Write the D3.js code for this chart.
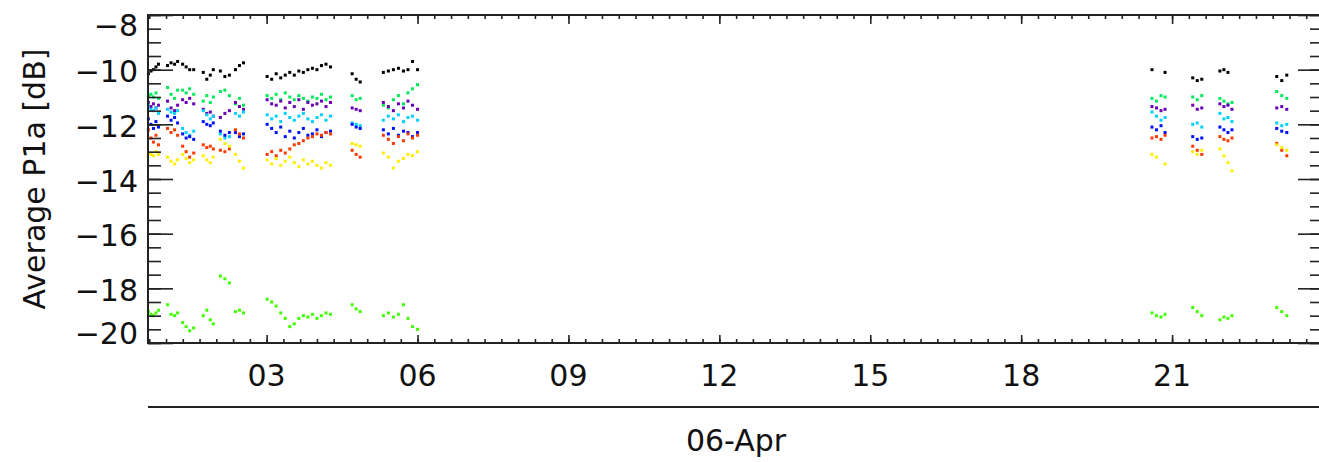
<!DOCTYPE html>
<html>
<head>
<meta charset="utf-8">
<script src="https://cdn.jsdelivr.net/npm/d3@7"></script>
<style>
  body { margin: 0; background: #fff; }
  text { font-family: "DejaVu Sans", sans-serif; fill: #111; }
</style>
</head>
<body>
<div id="chart"></div>
<script>
// sample times, day of April 2006 (fractional)
var times = [
  0.65, 0.70, 0.75, 0.80, 0.85,
  1.03, 1.10, 1.17, 1.23,
  1.33, 1.40, 1.47, 1.55,
  1.74, 1.81, 1.88, 1.94,
  2.08, 2.17, 2.26,
  2.38, 2.46, 2.54,
  3.01, 3.10, 3.19, 3.28, 3.37, 3.46, 3.55, 3.64, 3.73, 3.82, 3.91, 4.00, 4.09, 4.18, 4.27,
  4.70, 4.78, 4.86,
  5.32, 5.42, 5.52, 5.62, 5.72, 5.81, 5.90, 6.00,
  20.60, 20.69, 20.78, 20.86,
  21.41, 21.50, 21.59,
  21.95, 22.03, 22.11, 22.19,
  23.08, 23.18, 23.28
]

var blackVals = [
  -10.15, -10.05, -10.0, -9.9, -9.8,
  -9.85, -9.75, -9.8, -9.7,
  -9.8, -9.9, -10.0, -10.0,
  -10.1, -10.35, -10.2, -10.0,
  -10.05, -10.25, -10.2,
  -10.0, -9.85, -9.75,
  -10.25, -10.35, -10.15, -10.3, -10.2, -10.1, -10.2, -10.05, -10.1, -10.0, -9.95, -10.0, -9.85, -9.8, -9.9,
  -10.15, -10.35, -10.45,
  -10.1, -10.05, -10.0, -9.95, -10.05, -10.0, -9.7, -10.0,
  -10.0, null, null, -10.1,
  -10.3, -10.4, -10.35,
  -10.05, -10.0, -10.1, null,
  -10.25, -10.4, -10.2
]
var greenVals = [
  -10.95, -10.9, -11.0, -10.85, -11.05,
  -10.65, -10.9, -11.05, -10.75,
  -10.75, -10.85, -10.7, -10.9,
  -11.15, -10.95, -11.2, -11.0,
  -10.8, -10.75, -10.95,
  -11.25, -11.05, -11.3,
  -10.95, -11.05, -10.9, -11.1, -10.85, -11.0, -11.1, -10.95, -11.05, -11.15, -11.0, -11.05, -10.9, -11.1, -11.0,
  -10.95, -11.1, -11.05,
  -11.3, -11.4, -11.1, -10.95, -11.25, -10.85, -10.7, -10.55,
  -11.05, -11.15, -10.95, -11.0,
  -11.0, -11.1, -10.95,
  -11.05, -11.15, -11.25, -11.2,
  -10.8, -10.95, -11.05
]
var purpleVals = [
  -11.2, -11.35, -11.25, -11.4, -11.3,
  -11.15, -11.4, -11.5, -11.3,
  -11.1, -11.2, -11.05, -11.25,
  -11.45, -11.6, -11.55, -11.7,
  -11.75, -11.6, -11.5,
  -11.2, -11.35, -11.45,
  -11.1, -11.25, -11.3, -11.15, -11.4, -11.2, -11.35, -11.1, -11.45, -11.2, -11.3, -11.25, -11.15, -11.35, -11.2,
  -11.4, -11.45, -11.5,
  -11.2, -11.35, -11.5, -11.25, -11.4, -11.15, -11.3, -11.45,
  -11.35, -11.4, -11.5, -11.45,
  -11.3, -11.45, -11.4,
  -11.25, -11.35, -11.3, -11.45,
  -11.4, -11.35, -11.45
]
var cyanVals = [
  -11.3, -11.45, -11.5, -11.4, -11.6,
  -11.45, -11.55, -11.6, -11.5,
  -12.15, -12.3, -12.4, -12.25,
  -11.5, -11.65, -11.8, -11.7,
  -12.35, -12.5, -12.45,
  -11.6, -11.7, -11.55,
  -11.65, -11.8, -11.7, -11.9, -11.6, -11.75, -11.85, -11.7, -11.6, -11.8, -11.9, -11.75, -11.65, -11.85, -11.7,
  -11.95, -12.0, -12.05,
  -11.85, -11.7, -11.8, -11.65, -11.9, -11.75, -11.7, -11.85,
  -11.55, -11.7, -11.85, -11.75,
  -12.0, -11.95, -12.1,
  -11.6, -11.8, -11.75, -11.9,
  -11.95, -12.05, -12.0
]
var blueVals = [
  -11.8, -12.0, -12.15, -11.9, -12.1,
  -11.7, -11.85, -11.75, -11.95,
  -12.35, -12.5, -12.45, -12.55,
  -11.9, -12.0, -12.05, -11.95,
  -12.25, -12.4, -12.3,
  -12.3, -12.45, -12.35,
  -12.0, -12.15, -12.3, -12.1, -12.45, -12.25, -12.5, -12.3, -12.15, -12.4, -12.35, -12.2, -12.45, -12.3, -12.25,
  -12.0, -12.1, -12.15,
  -12.2, -12.35, -12.15, -12.4, -12.25, -12.3, -12.45, -12.3,
  -12.1, -12.2, -12.05, -12.3,
  -12.45, -12.55, -12.5,
  -12.1, -12.2, -12.3, -12.2,
  -12.15, -12.25, -12.3
]
var redVals = [
  -12.2, -12.5, -12.65, -12.4, -12.75,
  -12.15, -12.3, -12.2, -12.4,
  -12.8, -13.0, -13.2, -13.05,
  -12.75, -12.85, -12.8, -12.9,
  -12.95, -13.0, -12.9,
  -12.2, -12.35, -12.5,
  -13.1, -13.0, -13.15, -12.95, -13.05, -12.9, -12.75, -12.7, -12.6, -12.5, -12.45, -12.35, -12.4, -12.3, -12.35,
  -12.95, -13.1, -13.2,
  -12.4, -12.55, -12.7, -12.45, -12.6, -12.35, -12.5, -12.4,
  -12.5, -12.45, -12.55, -12.4,
  -12.8, -12.95, -13.1,
  -12.45, -12.55, -12.6, -12.5,
  -12.7, -12.95, -13.15
]
var yellowVals = [
  -13.05, -13.1, -13.15, -13.0, -13.1,
  -13.2, -13.35, -13.45, -13.3,
  -13.1, -13.25, -13.4, -13.3,
  -13.15, -13.3, -13.4, -13.2,
  -12.55, -12.7, -12.8,
  -13.1, -13.35, -13.6,
  -13.3, -13.45, -13.25, -13.5, -13.35, -13.2, -13.4, -13.55, -13.3, -13.45, -13.35, -13.5, -13.6, -13.4, -13.5,
  -12.7, -12.75, -12.8,
  -13.05, -13.2, -13.6, -13.35, -13.25, -13.1, -13.15, -13.0,
  -13.1, -13.2, null, -13.45,
  -13.0, -13.1, -12.95,
  -12.9, -13.15, -13.4, -13.7,
  -12.75, -12.85, -12.95
]
var limeVals = [
  -18.85, -18.95, -19.0, -18.9, -18.8,
  -18.6, -18.95, -19.0, -18.9,
  -19.25, -19.4, -19.55, -19.45,
  -19.0, -18.8, -19.15, -19.3,
  -17.55, -17.65, -17.8,
  -18.85, -18.8, -18.9,
  -18.4, -18.5, -18.65, -18.9, -19.1, -19.4, -19.3, -19.1, -19.0, -19.05, -18.95, -19.1, -19.0, -18.9, -18.95,
  -18.6, -18.75, -18.85,
  -19.0, -18.9, -19.05, -18.95, -18.6, -19.1, -19.4, -19.5,
  -18.9, -19.0, -19.05, -18.95,
  -18.7, -18.85, -19.0,
  -19.15, -19.05, -19.1, -19.0,
  -18.7, -18.85, -19.0
]

var seriesNames = ["black", "green", "purple", "cyan", "blue", "red", "yellow", "lime"]
var seriesColors = ["#000000", "#00e85c", "#6a00b4", "#00d2ff", "#0010ff", "#ff3a00", "#ffee00", "#40ff00"]
var seriesVals = [blackVals, greenVals, purpleVals, cyanVals, blueVals, redVals, yellowVals, limeVals]

var xStart = "2006-03-31T15:24:00Z"
var xEnd = "2006-04-24T00:00:00Z"
var majorDays = [3, 6, 9, 12, 15, 18, 21]
var majorLabels = ["03", "06", "09", "12", "15", "18", "21"]
var yTicks = [-20, -18, -16, -14, -12, -10, -8]
var dateLabel = "06-Apr"
var yTitle = "Average P1a [dB]"

function dayToDate(d) {
  return new Date(Date.UTC(2006, 3, 1) + (d - 1) * 864e5)
}

var W = 1319, H = 462
var mLeft = 148, mRight = 1323, mTop = 15, mBottom = 343

var svg = d3.select("#chart").append("svg")
  .attr("width", W)
  .attr("height", H)

var x = d3.scaleUtc()
  .domain([new Date(xStart), new Date(xEnd)])
  .range([mLeft, mRight])
var y = d3.scaleLinear().domain([-20, -8]).range([mBottom, mTop])

var majorDates = majorDays.map(dayToDate)
var minorDates = d3.utcHour.every(8).range(new Date(xStart), new Date(xEnd))
var minorY = d3.range(-20, -7.9, 0.5)

// points
var plot = svg.append("g")
seriesVals.forEach(function(vals, i) {
  var pts = times.map(function(t, j) { return {t: t, v: vals[j]} })
    .filter(function(p) { return p.v != null })
  plot.selectAll(".pt-" + seriesNames[i])
    .data(pts)
    .enter().append("rect")
    .attr("class", "pt-" + seriesNames[i])
    .attr("x", function(p) { return x(dayToDate(p.t)) - 1.5 })
    .attr("y", function(p) { return y(p.v) - 1.5 })
    .attr("width", 3)
    .attr("height", 3)
    .attr("fill", seriesColors[i])
})

function styleAxis(g) {
  g.select(".domain").remove()
  g.selectAll("line").attr("stroke", "#222").attr("stroke-width", 1.6)
}

// bottom axis ticks
svg.append("g").attr("transform", "translate(0," + mBottom + ")")
  .call(d3.axisTop(x).tickValues(minorDates).tickSize(4).tickFormat(""))
  .call(styleAxis)
svg.append("g").attr("transform", "translate(0," + mBottom + ")")
  .call(d3.axisTop(x).tickValues(majorDates).tickSize(8).tickFormat(""))
  .call(styleAxis)
// top axis ticks
svg.append("g").attr("transform", "translate(0," + mTop + ")")
  .call(d3.axisBottom(x).tickValues(minorDates).tickSize(4).tickFormat(""))
  .call(styleAxis)
svg.append("g").attr("transform", "translate(0," + mTop + ")")
  .call(d3.axisBottom(x).tickValues(majorDates).tickSize(9).tickFormat(""))
  .call(styleAxis)

// x labels
svg.append("g").selectAll("text")
  .data(majorDays)
  .enter().append("text")
  .attr("x", function(d) { return x(dayToDate(d)) })
  .attr("y", 375)
  .attr("dy", "0.36em")
  .attr("text-anchor", "middle")
  .attr("font-size", 30)
  .text(function(d, i) { return majorLabels[i] })

// left axis
svg.append("g").attr("transform", "translate(" + mLeft + ",0)")
  .call(d3.axisRight(y).tickValues(minorY).tickSize(13).tickFormat(""))
  .call(styleAxis)
svg.append("g").attr("transform", "translate(" + mLeft + ",0)")
  .call(d3.axisRight(y).tickValues(yTicks).tickSize(25).tickFormat(""))
  .call(styleAxis)
// right axis
svg.append("g").attr("transform", "translate(" + mRight + ",0)")
  .call(d3.axisLeft(y).tickValues(minorY).tickSize(13).tickFormat(""))
  .call(styleAxis)
svg.append("g").attr("transform", "translate(" + mRight + ",0)")
  .call(d3.axisLeft(y).tickValues(yTicks).tickSize(25).tickFormat(""))
  .call(styleAxis)

// y labels
var fmt = d3.format("d")
svg.append("g").selectAll("text")
  .data(yTicks)
  .enter().append("text")
  .attr("x", 138)
  .attr("y", function(d) { return Math.max(mTop + 10, Math.min(mBottom - 10, y(d) + 2)) })
  .attr("dy", "0.36em")
  .attr("text-anchor", "end")
  .attr("font-size", 30)
  .text(function(d) { return fmt(d) })

// frame
svg.append("rect")
  .attr("x", mLeft).attr("y", mTop)
  .attr("width", mRight - mLeft).attr("height", mBottom - mTop)
  .attr("fill", "none")
  .attr("stroke", "#222")
  .attr("stroke-width", 2)

// y title
svg.append("text")
  .attr("transform", "translate(45," + (mTop + mBottom) / 2 + ") rotate(-90)")
  .attr("text-anchor", "middle")
  .attr("font-size", 30)
  .text(yTitle)

// date line + label
svg.append("line")
  .attr("x1", mLeft).attr("x2", mRight)
  .attr("y1", 407).attr("y2", 407)
  .attr("stroke", "#222")
  .attr("stroke-width", 2)
svg.append("text")
  .attr("x", 736)
  .attr("y", 440)
  .attr("dy", "0.36em")
  .attr("text-anchor", "middle")
  .attr("font-size", 30)
  .text(dateLabel)
</script>
</body>
</html>
